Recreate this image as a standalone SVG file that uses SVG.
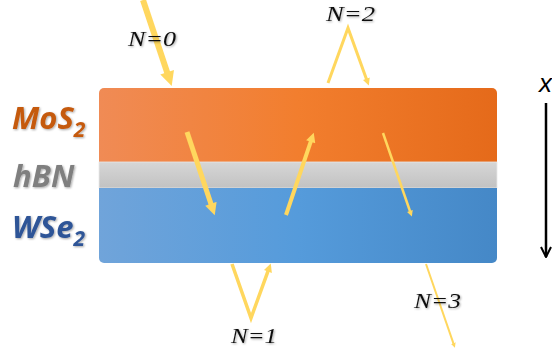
<svg xmlns="http://www.w3.org/2000/svg" width="552" height="354" viewBox="0 0 552 354">
<defs>
<linearGradient id="gOr" x1="0" y1="0" x2="1" y2="0"><stop offset="0" stop-color="#F08B55"/><stop offset="0.5" stop-color="#F27E2E"/><stop offset="1" stop-color="#E56A1A"/></linearGradient>
<linearGradient id="gBl" x1="0" y1="0" x2="1" y2="0"><stop offset="0" stop-color="#70A4DA"/><stop offset="0.5" stop-color="#559BDB"/><stop offset="1" stop-color="#4588C7"/></linearGradient>
<linearGradient id="gGr" x1="0" y1="0" x2="0" y2="1"><stop offset="0" stop-color="#D6D6D6"/><stop offset="1" stop-color="#C2C2C2"/></linearGradient>
<marker id="ah" viewBox="0 0 10 10" refX="1" refY="5" markerWidth="2.6" markerHeight="2.4" orient="auto"><path d="M0,0 L10,5 L0,10 z" fill="#FFD75E"/></marker>
<marker id="ax" viewBox="0 0 10 10" refX="9" refY="5" markerWidth="5" markerHeight="6" orient="auto"><path d="M1,1 L9,5 L1,9" fill="none" stroke="#000" stroke-width="1.6"/></marker>
<filter id="sh" x="-20%" y="-20%" width="140%" height="140%"><feDropShadow dx="1" dy="1" stdDeviation="0.8" flood-color="#000" flood-opacity="0.35"/></filter>
</defs>
<style>
.lab{font-family:"Open Sans",Lato,sans-serif;font-weight:bold;font-style:italic;font-size:31px;filter:url(#sh)}
.n{font-family:"Liberation Serif",serif;font-style:italic;font-size:22px;fill:#111;filter:url(#sh)}
.ray{fill:none;stroke:#FFD75E;stroke-linejoin:miter;marker-end:url(#ah)}
</style>
<g id="MoS2">
<path d="M104,88 H492 A5,5 0 0 1 497,93 V163 H99 V93 A5,5 0 0 1 104,88 Z" fill="url(#gOr)"/>
<text class="lab" x="12" y="129" fill="#C55A11">MoS<tspan font-size="21" dy="8">2</tspan></text>
</g>
<g id="hBN">
<rect x="99" y="162" width="398" height="26" fill="url(#gGr)" stroke="#E8E8E8" stroke-width="0.8"/>
<text class="lab" x="13" y="187" fill="#7F7F7F">hBN</text>
</g>
<g id="WSe2">
<path d="M99,188 H497 V258 A5,5 0 0 1 492,263 H104 A5,5 0 0 1 99,258 Z" fill="url(#gBl)"/>
<text class="lab" x="12" y="238" fill="#2F5597">WSe<tspan font-size="21" dy="8">2</tspan></text>
</g>
<g id="axis">
<line x1="546" y1="103" x2="546" y2="257" stroke="#000" stroke-width="2.5" marker-end="url(#ax)"/>
<text x="539" y="92" font-family="'Liberation Sans',sans-serif" font-style="italic" font-size="26" fill="#000">x</text>
</g>
<g id="connectors">
<path class="ray" d="M143,0 L167.6,73.7" stroke-width="6"/>
<path class="ray" d="M187,132 L211.3,204.9" stroke-width="5"/>
<path class="ray" d="M286,215 L311,140.9" stroke-width="4"/>
<path class="ray" d="M383,133 L410.1,211.5" stroke-width="2.5"/>
<path class="ray" d="M232,264 L251,318 L268.2,270.7" stroke-width="3.5"/>
<path class="ray" d="M328,83 L348,28 L366.6,79.4" stroke-width="3"/>
<path class="ray" d="M426,264 L453.5,343.6" stroke-width="2"/>
</g>
<g id="labels">
<text class="n" x="128" y="46" textLength="48" lengthAdjust="spacingAndGlyphs">N=0</text>
<text class="n" x="326" y="21" textLength="49" lengthAdjust="spacingAndGlyphs">N=2</text>
<text class="n" x="231" y="343" textLength="46" lengthAdjust="spacingAndGlyphs">N=1</text>
<text class="n" x="414" y="308" textLength="47" lengthAdjust="spacingAndGlyphs">N=3</text>
</g>
</svg>
